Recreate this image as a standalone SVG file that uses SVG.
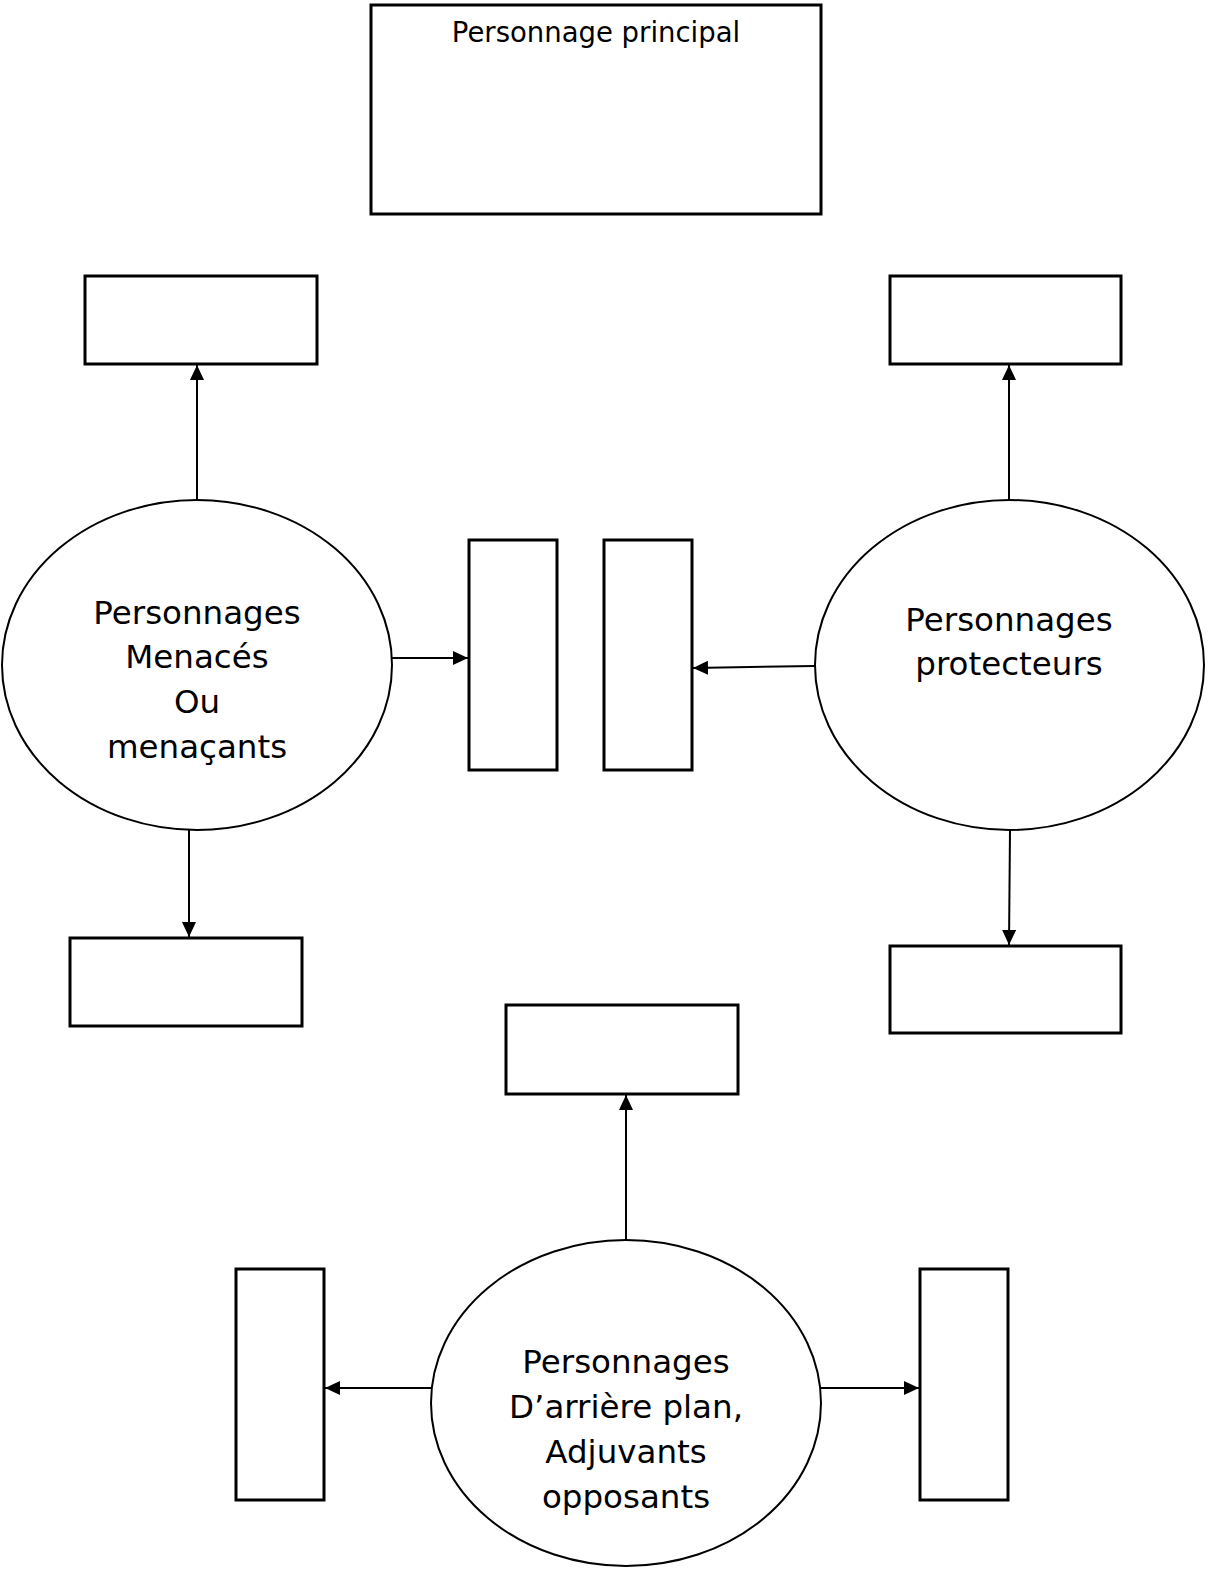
<svg xmlns="http://www.w3.org/2000/svg" width="1212" height="1577" viewBox="0 0 1212 1577">
<style>
.box{fill:#fff;stroke:#000;stroke-width:3}
.ell{fill:#fff;stroke:#000;stroke-width:2}
.con{fill:none;stroke:#000;stroke-width:2;marker-end:url(#ah)}
.lbl{font-family:"DejaVu Sans","Verdana",sans-serif;font-size:32.5px;text-anchor:middle;fill:#000}
.ttl{font-family:"DejaVu Sans","Verdana",sans-serif;font-size:27.5px;text-anchor:middle;fill:#000}
</style>
<defs>
<marker id="ah" markerUnits="userSpaceOnUse" markerWidth="15" markerHeight="14" refX="15" refY="7" orient="auto">
<path d="M0,0 L15,7 L0,14 z" fill="#000"/>
</marker>
</defs>
<rect width="1212" height="1577" fill="#fff"/>
<g id="principal"><rect class="box" x="371" y="5" width="450" height="209"/><text class="ttl" x="596" y="42">Personnage principal</text></g>
<g id="box-tl"><rect class="box" x="85" y="276" width="232" height="88"/></g>
<g id="box-tr"><rect class="box" x="890" y="276" width="231" height="88"/></g>
<g id="box-bl"><rect class="box" x="70" y="938" width="232" height="88"/></g>
<g id="box-br"><rect class="box" x="890" y="946" width="231" height="87"/></g>
<g id="box-mid-a"><rect class="box" x="469" y="540" width="88" height="230"/></g>
<g id="box-mid-b"><rect class="box" x="604" y="540" width="88" height="230"/></g>
<g id="box-bot-top"><rect class="box" x="506" y="1005" width="232" height="89"/></g>
<g id="box-bot-left"><rect class="box" x="236" y="1269" width="88" height="231"/></g>
<g id="box-bot-right"><rect class="box" x="920" y="1269" width="88" height="231"/></g>
<g id="ell-menaces"><ellipse class="ell" cx="197" cy="665" rx="195" ry="165"/>
<text class="lbl" x="197" y="624">Personnages</text><text class="lbl" x="197" y="668">Menacés</text><text class="lbl" x="197" y="713">Ou</text><text class="lbl" x="197" y="758">menaçants</text></g>
<g id="ell-protecteurs"><ellipse class="ell" cx="1009.5" cy="665" rx="194.5" ry="165"/>
<text class="lbl" x="1009" y="631">Personnages</text><text class="lbl" x="1009" y="675">protecteurs</text></g>
<g id="ell-arriere"><ellipse class="ell" cx="626" cy="1403" rx="195" ry="163"/>
<text class="lbl" x="626" y="1373">Personnages</text><text class="lbl" x="626" y="1418">D’arrière plan,</text><text class="lbl" x="626" y="1463">Adjuvants</text><text class="lbl" x="626" y="1508">opposants</text></g>
<g id="connectors">
<line class="con" x1="392" y1="658" x2="468" y2="658"/>
<line class="con" x1="815" y1="666" x2="693" y2="668"/>
<line class="con" x1="197" y1="500" x2="197" y2="365"/>
<line class="con" x1="189" y1="830" x2="189" y2="937"/>
<line class="con" x1="1009" y1="500" x2="1009" y2="365"/>
<line class="con" x1="1010" y1="830" x2="1009" y2="945"/>
<line class="con" x1="626" y1="1240" x2="626" y2="1095"/>
<line class="con" x1="431" y1="1388" x2="325" y2="1388"/>
<line class="con" x1="821" y1="1388" x2="919" y2="1388"/>
</g>
</svg>
